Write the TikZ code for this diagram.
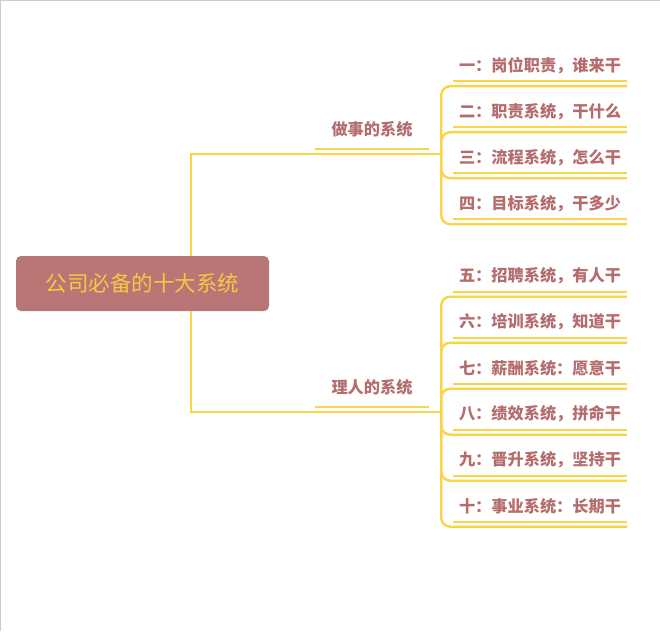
\documentclass[tikz,border=0pt]{standalone}
\usepackage{fontspec}
\setmainfont{Noto Sans CJK SC}
\usetikzlibrary{positioning}

\definecolor{lineyellow}{RGB}{250,212,68}
\definecolor{rootred}{RGB}{185,118,118}
\definecolor{rootyellow}{RGB}{246,200,66}
\definecolor{textred}{RGB}{181,108,108}

\tikzset{
  link/.style={draw=lineyellow, line width=2.4pt},
  topic/.style={inner sep=0pt, text=textred, font=\fontsize{16.2}{20}\selectfont\bfseries},
  branch/.style={topic, minimum width=114pt, minimum height=49pt},
  leaf/.style={topic, minimum width=174pt, minimum height=41pt},
}

\begin{document}
\begin{tikzpicture}[x=1pt, y=1pt, node distance=46pt, on grid]
    \useasboundingbox (0,0) rectangle (660,-631);
    \draw[black!20, line width=1.2pt] (0.6,-631) -- (0.6,-0.6) -- (660,-0.6);

    \node[fill=rootred, rounded corners=5pt, minimum width=253pt, minimum height=55pt,
      text=rootyellow, font=\fontsize{21.5}{26}\selectfont] (r) at (142.5,-283.5) {公司必备的十大系统};

    \node[branch, above right=154pt and 229.5pt of r] (a) {做事的系统};
    \node[branch, below right=103.5pt and 229.5pt of r] (b) {理人的系统};
    \coordinate[right=12pt of a.south east] (p);
    \coordinate[right=12pt of b.south east] (q);

    \node[leaf, above right=64pt and 168pt of a] (a1) {一：岗位职责，谁来干};
    \node[leaf, below=of a1] (a2) {二：职责系统，干什么};
    \node[leaf, below=of a2] (a3) {三：流程系统，怎么干};
    \node[leaf, below=of a3] (a4) {四：目标系统，干多少};

    \node[leaf, above right=111pt and 168pt of b] (b1) {五：招聘系统，有人干};
    \node[leaf, below=of b1] (b2) {六：培训系统，知道干};
    \node[leaf, below=of b2] (b3) {七：薪酬系统：愿意干};
    \node[leaf, below=of b3] (b4) {八：绩效系统，拼命干};
    \node[leaf, below=of b4] (b5) {九：晋升系统，坚持干};
    \node[leaf, below=of b5] (b6) {十：事业系统：长期干};

    \draw[link] ([xshift=48.5pt]r.north) |- (p);
    \draw[link] ([xshift=48.5pt]r.south) |- (q);

    \draw[link, rounded corners=9pt] (p) |- (a1.south east);
    \draw[link, rounded corners=9pt] (p) |- (a2.south east);
    \draw[link, rounded corners=9pt] (p) |- (a3.south east);
    \draw[link, rounded corners=9pt] (p) |- (a4.south east);

    \draw[link, rounded corners=9pt] (q) |- (b1.south east);
    \draw[link, rounded corners=9pt] (q) |- (b2.south east);
    \draw[link, rounded corners=9pt] (q) |- (b3.south east);
    \draw[link, rounded corners=9pt] (q) |- (b4.south east);
    \draw[link, rounded corners=9pt] (q) |- (b5.south east);
    \draw[link, rounded corners=9pt] (q) |- (b6.south east);

    \foreach \n in {a,b,a1,a2,a3,a4,b1,b2,b3,b4,b5,b6}
      \draw[link] ([yshift=5pt]\n.south west) -- ([yshift=5pt]\n.south east);
\end{tikzpicture}
\end{document}
